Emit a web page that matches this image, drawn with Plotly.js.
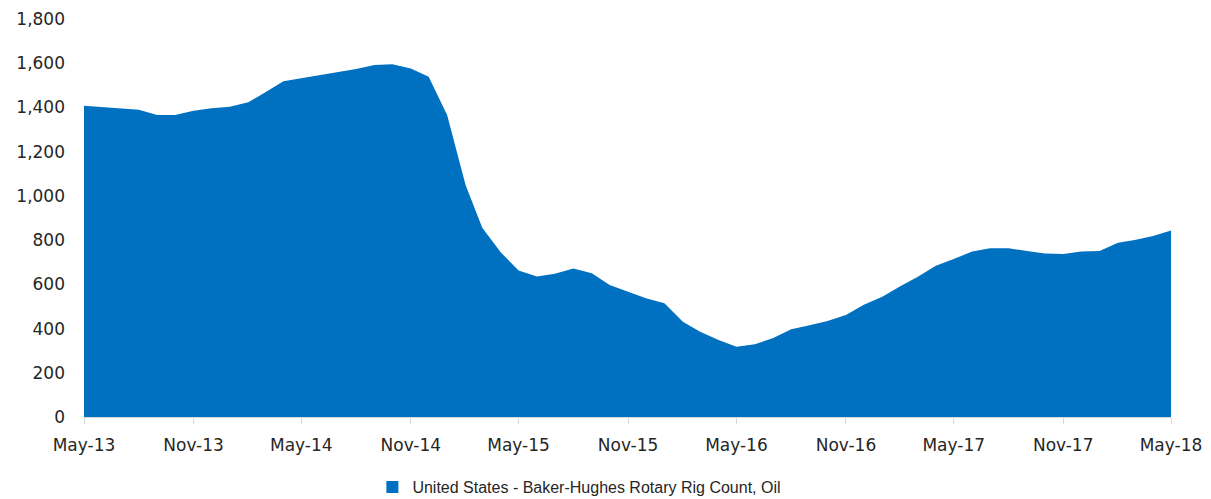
<!DOCTYPE html>
<html>
<head>
<meta charset="utf-8">
<script src="https://cdn.plot.ly/plotly-3.0.1.min.js"></script>
<style>html,body{margin:0;padding:0;background:#fff;}#chart{width:1211px;height:499px;}</style>
</head>
<body>
<div id="chart"></div>
<script>
// Monthly values, May-2013 .. May-2018
var startYear = 2013, startMonth = 5;
var rigCount = [
  1408, 1403, 1396, 1390, 1366, 1366, 1385, 1396, 1403, 1423,
  1468, 1518, 1532, 1545, 1559, 1574, 1592, 1595, 1576, 1539,
  1366, 1049, 856, 745, 662, 635, 648, 672, 650, 597,
  567, 537, 514, 431, 386, 348, 318, 329, 356, 397,
  415, 434, 461, 508, 544, 593, 633, 684, 715, 748,
  763, 763, 751, 740, 737, 748, 751, 788, 801, 819,
  844
];
var tickDates = ['2013-05-01','2013-11-01','2014-05-01','2014-11-01','2015-05-01','2015-11-01','2016-05-01','2016-11-01','2017-05-01','2017-11-01','2018-05-01'];
var tickLabels = ['May-13','Nov-13','May-14','Nov-14','May-15','Nov-15','May-16','Nov-16','May-17','Nov-17','May-18'];
var seriesName = 'United States - Baker-Hughes Rotary Rig Count, Oil';

var months = rigCount.map(function(_, i){
  var m = startMonth - 1 + i;
  var y = startYear + Math.floor(m / 12);
  var mm = (m % 12) + 1;
  return y + '-' + (mm < 10 ? '0' : '') + mm + '-01';
});

var blue = '#0070C0';
var tickFont = {family: 'DejaVu Sans, Liberation Sans, sans-serif', size: 17, color: '#262626'};
var legendFont = {family: 'Liberation Sans, Arial, sans-serif', size: 16, color: '#262626'};

var traces = [
  {x: months, y: rigCount, type: 'scatter', mode: 'lines', fill: 'tozeroy',
   fillcolor: blue, line: {color: blue, width: 0}, showlegend: false, hoverinfo: 'x+y'},
  {x: [null], y: [null], type: 'scatter', mode: 'markers', name: seriesName,
   marker: {symbol: 'square', size: 12, color: blue}, showlegend: true}
];

var layout = {
  width: 1211, height: 499,
  margin: {l: 84, r: 40, t: 19, b: 82, autoexpand: false},
  paper_bgcolor: '#fff', plot_bgcolor: '#fff',
  font: tickFont,
  showlegend: true,
  legend: {orientation: 'h', xref: 'container', yref: 'container',
           x: 0.3075, xanchor: 'left', y: 0.024, yanchor: 'middle',
           font: legendFont, itemwidth: 30},
  xaxis: {
    type: 'date', range: [months[0], months[months.length - 1]],
    tickmode: 'array', tickvals: tickDates, ticktext: tickLabels,
    showgrid: false, zeroline: false,
    showline: true, linecolor: '#d9d9d9', linewidth: 1,
    ticks: 'outside', ticklen: 6, tickcolor: '#d9d9d9',
    ticklabelstandoff: 7,
    tickfont: tickFont
  },
  yaxis: {
    range: [0, 1800], dtick: 200, tickformat: ',d',
    showgrid: false, zeroline: false, showline: false,
    ticks: '', tickfont: tickFont, ticklabelstandoff: 18
  }
};

Plotly.newPlot('chart', traces, layout, {displayModeBar: false, staticPlot: true});
</script>
</body>
</html>
